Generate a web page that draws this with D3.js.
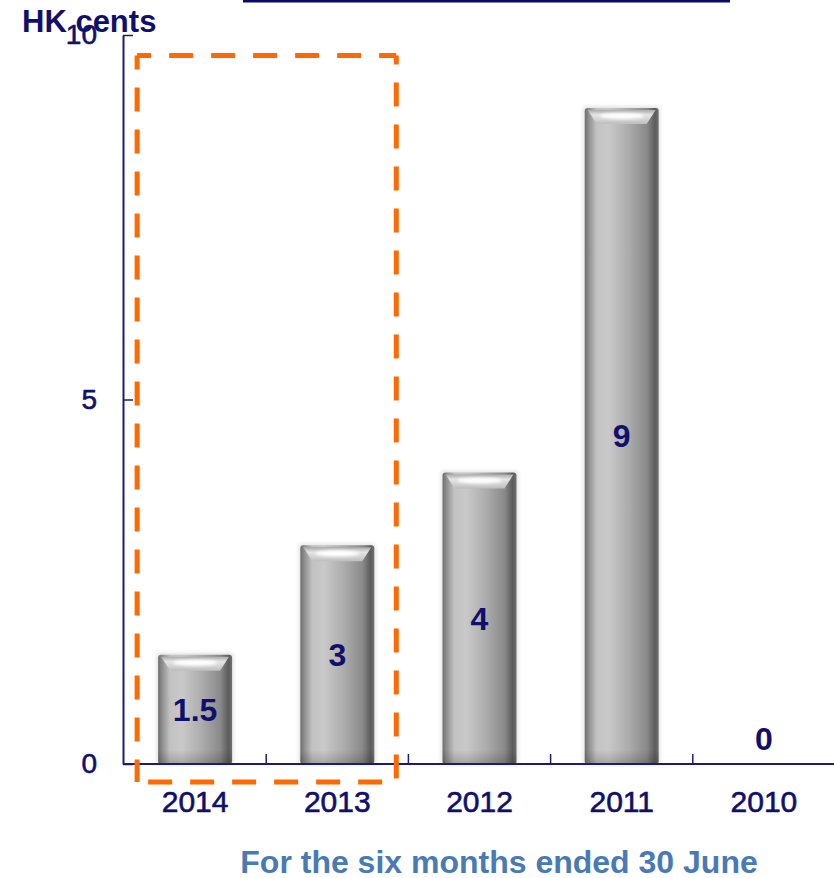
<!DOCTYPE html>
<html>
<head>
<meta charset="utf-8">
<script src="https://cdn.jsdelivr.net/npm/d3@7/dist/d3.min.js"></script>
<style>
  html, body { margin: 0; padding: 0; background: #fff; }
  svg { display: block; }
  text { font-family: "Liberation Sans", Arial, Helvetica, sans-serif; }
</style>
</head>
<body>
<svg id="chart" width="834" height="878"></svg>
<script>
// Interim dividend per share, HK cents
const years = ["2014", "2013", "2012", "2011", "2010"];
const dividends = [1.5, 3, 4, 9, 0];
const yTicks = [0, 5, 10];
const unitLabel = "HK cents";
const periodLabel = "For the six months ended 30 June";
const highlighted = ["2014", "2013"];

const navy = "#10106c";
const axisColor = "#1c1c78";

const svg = d3.select("#chart");
const defs = svg.append("defs");

// Cylinder body shading (left to right)
const body = defs.append("linearGradient").attr("id", "barBody")
  .attr("x1", "0").attr("x2", "1").attr("y1", "0").attr("y2", "0");
[[0, "#6e6e6e"], [0.05, "#8c8c8c"], [0.16, "#c2c2c2"], [0.32, "#c9c9c9"],
 [0.6, "#ababab"], [0.84, "#8a8a8a"], [0.95, "#5c5c5c"], [1, "#707070"]]
  .forEach(([o, c]) => body.append("stop").attr("offset", o).attr("stop-color", c));

// Bevelled cap face (top to bottom)
const cap = defs.append("linearGradient").attr("id", "barCap")
  .attr("x1", "0").attr("x2", "0").attr("y1", "0").attr("y2", "1");
[[0, "#a8a8a8"], [0.35, "#e4e4e4"], [0.7, "#d2d2d2"], [1, "#bdbdbd"]]
  .forEach(([o, c]) => cap.append("stop").attr("offset", o).attr("stop-color", c));

// Slight darkening toward the base
const base = defs.append("linearGradient").attr("id", "barBase")
  .attr("x1", "0").attr("x2", "0").attr("y1", "0").attr("y2", "1");
base.append("stop").attr("offset", 0).attr("stop-color", "#000").attr("stop-opacity", 0);
base.append("stop").attr("offset", 1).attr("stop-color", "#000").attr("stop-opacity", 0.18);

defs.append("filter").attr("id", "soft").attr("x", "-20%").attr("y", "-20%")
  .attr("width", "140%").attr("height", "140%")
  .append("feGaussianBlur").attr("stdDeviation", 2.2);
defs.append("filter").attr("id", "glow").attr("x", "-50%").attr("y", "-100%")
  .attr("width", "200%").attr("height", "300%")
  .append("feGaussianBlur").attr("stdDeviation", 1.6);

// Scales
const x = d3.scaleBand().domain(years).range([124, 835]).paddingInner(0.48).paddingOuter(0.24);
const y = d3.scaleLinear().domain([0, 10]).range([764, 35]);

// Title underline fragment at the top edge
svg.append("line")
  .attr("x1", 243).attr("x2", 730).attr("y1", 1).attr("y2", 1)
  .attr("stroke", "#0a0a6a").attr("stroke-width", 3);

// Bars
const bars = svg.append("g").selectAll("g")
  .data(years.map((d, i) => ({ year: d, value: dividends[i] })).filter(d => d.value > 0))
  .join("g");

bars.append("rect")
  .attr("x", d => x(d.year) - 1).attr("y", d => y(d.value) - 1)
  .attr("width", x.bandwidth() + 2).attr("height", d => y(0) - y(d.value) + 1)
  .attr("fill", "#9a9a9a").attr("opacity", 0.35).attr("filter", "url(#soft)");

bars.append("rect")
  .attr("x", d => x(d.year)).attr("y", d => y(d.value))
  .attr("width", x.bandwidth()).attr("height", d => y(0) - y(d.value))
  .attr("rx", 3)
  .attr("fill", "url(#barBody)");

bars.append("rect")
  .attr("x", d => x(d.year)).attr("y", d => y(0) - 14)
  .attr("width", x.bandwidth()).attr("height", 14)
  .attr("fill", "url(#barBase)");

bars.append("path")
  .attr("d", d => {
    const x0 = x(d.year), w = x.bandwidth(), t = y(d.value);
    return `M${x0 + 3},${t + 2} L${x0 + w - 3},${t + 2} L${x0 + w - 12},${t + 16} L${x0 + 12},${t + 16} Z`;
  })
  .attr("fill", "url(#barCap)");

bars.append("ellipse")
  .attr("cx", d => x(d.year) + x.bandwidth() / 2)
  .attr("cy", d => y(d.value) + 8)
  .attr("rx", x.bandwidth() * 0.3).attr("ry", 3)
  .attr("fill", "#fff").attr("filter", "url(#glow)");

// Y axis with inward ticks
const yAxis = svg.append("g")
  .attr("transform", "translate(123,0)")
  .call(d3.axisLeft(y).tickValues(yTicks).tickFormat(d3.format("d"))
    .tickSizeInner(-10).tickSizeOuter(0).tickPadding(26));
yAxis.select(".domain").attr("stroke", axisColor).attr("stroke-width", 2);
yAxis.selectAll(".tick line").attr("stroke", axisColor).attr("stroke-width", 1.5);
yAxis.selectAll(".tick text")
  .attr("fill", navy).attr("stroke", navy).attr("stroke-width", 0.6)
  .attr("font-size", 28).attr("font-family", "Liberation Sans, Arial, sans-serif");

// X axis: category labels under each bar, ticks on category boundaries
const xAxis = svg.append("g")
  .attr("transform", `translate(0,${y(0)})`)
  .call(d3.axisBottom(x).tickSize(0).tickPadding(27));
xAxis.select(".domain").remove();
xAxis.selectAll(".tick text")
  .attr("fill", navy).attr("stroke", navy).attr("stroke-width", 0.6)
  .attr("font-size", 30).attr("font-family", "Liberation Sans, Arial, sans-serif");

svg.append("line")
  .attr("x1", 123).attr("x2", 834).attr("y1", y(0)).attr("y2", y(0))
  .attr("stroke", axisColor).attr("stroke-width", 2);

const gap = x.step() - x.bandwidth();
svg.append("g").selectAll("line")
  .data(years.slice(1))
  .join("line")
  .attr("x1", d => x(d) - gap / 2).attr("x2", d => x(d) - gap / 2)
  .attr("y1", y(0)).attr("y2", y(0) - 10)
  .attr("stroke", axisColor).attr("stroke-width", 1.5);

// Value labels at mid-height of each bar
svg.append("g").selectAll("text")
  .data(years.map((d, i) => ({ year: d, value: dividends[i] })))
  .join("text")
  .attr("x", d => x(d.year) + x.bandwidth() / 2)
  .attr("y", d => Math.min((y(d.value) + y(0)) / 2, y(0) - 26))
  .attr("dy", "0.36em")
  .attr("text-anchor", "middle")
  .attr("font-size", 32).attr("font-weight", "bold")
  .attr("fill", navy)
  .text(d => d.value);

// Unit label
svg.append("text")
  .attr("x", 22).attr("y", 32)
  .attr("font-size", 31).attr("font-weight", "bold")
  .attr("fill", navy)
  .text(unitLabel);

// Dashed frame around the highlighted years
const fx0 = x(highlighted[0]) - 21, fx1 = x(highlighted[highlighted.length - 1]) + x.bandwidth() + 22;
const fy0 = 55.5, fy1 = 782;
const frame = svg.append("g")
  .attr("stroke", "#ff6a00").attr("stroke-width", 5).attr("fill", "none")
  .attr("stroke-dasharray", "24,18");
frame.append("line").attr("x1", fx0).attr("x2", fx1).attr("y1", fy0).attr("y2", fy0).attr("stroke-dashoffset", 10);
frame.append("line").attr("x1", fx0).attr("x2", fx0).attr("y1", fy0).attr("y2", fy1).attr("stroke-dashoffset", 10);
frame.append("line").attr("x1", fx1).attr("x2", fx1).attr("y1", fy0).attr("y2", fy1).attr("stroke-dashoffset", 15);
frame.append("line").attr("x1", fx0).attr("x2", fx1).attr("y1", fy1).attr("y2", fy1).attr("stroke-dashoffset", 31);

// Period caption
svg.append("text")
  .attr("x", 499).attr("y", 873)
  .attr("text-anchor", "middle")
  .attr("font-size", 32).attr("font-weight", "bold")
  .attr("fill", "#4a7ab4")
  .text(periodLabel);
</script>
</body>
</html>
